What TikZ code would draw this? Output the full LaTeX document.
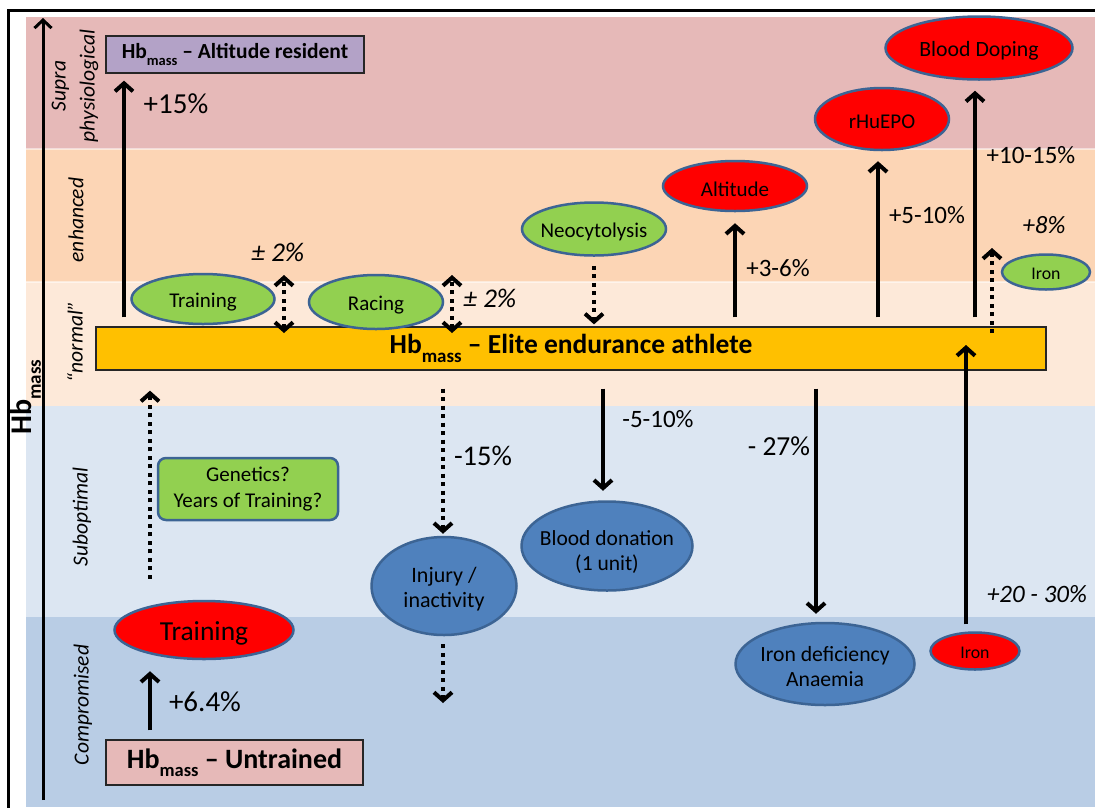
\documentclass[tikz,border=0pt]{standalone}
\usepackage{fontspec}
\setmainfont{Carlito}
\usetikzlibrary{shapes.geometric,arrows.meta}
\definecolor{bandA}{HTML}{E6B9B8}
\definecolor{bandB}{HTML}{FCD5B5}
\definecolor{bandC}{HTML}{FDE9D9}
\definecolor{bandD}{HTML}{DCE6F2}
\definecolor{bandE}{HTML}{B9CDE5}
\definecolor{purpbox}{HTML}{B3A2C7}
\definecolor{orangebar}{HTML}{FFC000}
\definecolor{greenf}{HTML}{92D050}
\definecolor{redf}{HTML}{FF0000}
\definecolor{bluef}{HTML}{4F81BD}
\definecolor{ebord}{HTML}{3C6494}
\newcommand\hbm[1]{Hb\raisebox{-0.3em}{\fontsize{#1}{#1}\selectfont mass}}
\begin{document}
\begin{tikzpicture}[x=1pt,y=-1pt,
  ell/.style={ellipse,draw=ebord,line width=2.5pt,inner sep=0pt},
  ellt/.style={font=\fontsize{21}{25}\selectfont,align=center,yshift=-3pt},
  arr/.style={line width=4pt,-{Straight Barb[length=8pt,width=18pt]}},
  darr/.style={line width=4pt,dash pattern=on 4pt off 4.5pt,-{Straight Barb[length=8pt,width=18pt]}},
  ddarr/.style={line width=4pt,dash pattern=on 4pt off 4.5pt,{Straight Barb[length=8pt,width=18pt]}-{Straight Barb[length=8pt,width=18pt]}},
  box/.style={draw=black!85,line width=1.3pt,inner sep=0pt},
  bandlab/.style={rotate=90,inner sep=0pt,font=\fontsize{21.5}{29}\selectfont\itshape,align=center},
  pct/.style={inner sep=0pt,font=\fontsize{25}{28}\selectfont},
  bpct/.style={inner sep=0pt,font=\fontsize{28.5}{30}\selectfont},
  ipct/.style={inner sep=0pt,font=\fontsize{25}{28}\selectfont\itshape}]
\useasboundingbox (0,0) rectangle (1095,807);
\clip (0,0) rectangle (1095,807);
\fill[white] (0,0) rectangle (1095,807);
% bands
\fill[bandA] (26,17) rectangle (1095,149);
\fill[bandB] (26,149) rectangle (1095,282);
\fill[bandC] (26,282) rectangle (1095,406);
\fill[bandD] (26,406) rectangle (1095,617);
\fill[bandE] (26,617) rectangle (1095,807);
\draw[white,opacity=0.5,line width=1.5pt] (26,149) -- (1095,149) (26,282) -- (1095,282);
% frame
\draw[line width=3pt] (8,10) rectangle (1130,840);
% axis
\coordinate (axB) at (43,800);
\coordinate (axT) at (43,18);
\draw[line width=3pt,-{Straight Barb[length=8pt,width=17pt]}] (axB) -- (axT);
\node[rotate=90,inner sep=0pt,font=\fontsize{30}{30}\selectfont\bfseries] (axlab) at (26,397) {\hbm{19}};
% band labels
\node[bandlab] (lSupra) at (75,86) {Supra\\physiological};
\node[bandlab] (lEnh) at (76,220) {enhanced};
\node[bandlab] (lNorm) at (75,342) {“normal”};
\node[bandlab] (lSub) at (82,517) {Suboptimal};
\node[bandlab] (lComp) at (83,705) {Compromised};
% boxes
\node[box,fill=purpbox,minimum width=258pt,minimum height=37pt,font=\fontsize{21.5}{25}\selectfont\bfseries] (altres) at (235,54.5) {\hbm{14.5} – Altitude resident};
\node[box,fill=orangebar,minimum width=950pt,minimum height=43pt,font=\fontsize{27.5}{30}\selectfont\bfseries] (elite) at (571,348.5) {\hbm{19} – Elite endurance athlete};
\node[box,fill=bandA,minimum width=257pt,minimum height=45pt,font=\fontsize{28}{30}\selectfont\bfseries] (untr) at (234.5,762.5) {\hbm{18.5} – Untrained};
\node[draw=ebord,line width=2.5pt,fill=greenf,rounded corners=8pt,minimum width=180pt,minimum height=62pt,inner sep=0pt,align=center,font=\fontsize{21}{26.5}\selectfont] (genet) at (248,489) {\raisebox{-4pt}{Genetics?}\\\raisebox{-4pt}{Years of Training?}};
% ellipses
\node[ell,fill=greenf,minimum width=143pt,minimum height=50pt,label={[ellt]center:Training}] (trG) at (203,299) {};
\node[ell,fill=greenf,minimum width=134pt,minimum height=54pt,label={[ellt]center:Racing}] (racG) at (376,302) {};
\node[ell,fill=greenf,minimum width=144pt,minimum height=53pt,label={[ellt]center:Neocytolysis}] (neo) at (594,229) {};
\node[ell,fill=redf,minimum width=144pt,minimum height=50pt,label={[ellt]center:Altitude}] (altE) at (735,186) {};
\node[ell,fill=redf,minimum width=134pt,minimum height=62pt,label={[ellt]center:rHuEPO}] (rhu) at (882,119) {};
\node[ell,fill=redf,minimum width=187pt,minimum height=63pt,label={[ellt,font=\fontsize{21.8}{26}\selectfont]center:Blood Doping}] (bd) at (979,48) {};
\node[ell,fill=greenf,minimum width=88pt,minimum height=35pt,label={[ellt,yshift=1pt,font=\fontsize{17.8}{20}\selectfont]center:Iron}] (ironG) at (1046,272) {};
\node[ell,fill=redf,minimum width=89pt,minimum height=37pt,label={[ellt,yshift=1pt,font=\fontsize{17.8}{20}\selectfont]center:Iron}] (ironR) at (975,651) {};
\node[ell,fill=bluef,minimum width=179pt,minimum height=82pt,label={[ellt,font=\fontsize{21.7}{25}\selectfont]center:Iron deficiency\\Anaemia}] (ida) at (825,664) {};
\node[ell,fill=bluef,minimum width=171pt,minimum height=89pt,label={[ellt,yshift=-3pt,font=\fontsize{21.5}{25}\selectfont]center:Blood donation\\(1 unit)}] (bdon) at (607,546) {};
\node[ell,fill=bluef,minimum width=145pt,minimum height=98pt,label={[ellt,font=\fontsize{22}{25}\selectfont]center:Injury /\\inactivity}] (inj) at (444,586) {};
\node[ell,fill=redf,minimum width=179pt,minimum height=58pt,label={[ellt,font=\fontsize{27.5}{30}\selectfont]center:Training}] (trR) at (204,630) {};
% coordinates for free ends
\coordinate (pmA1) at (284,333); \coordinate (pmA2) at (284,275);
\coordinate (pmB1) at (452,333); \coordinate (pmB2) at (452,275);
\coordinate (ironGs) at (992,333); \coordinate (ironGt) at (992,248);
\coordinate (ironTip) at (966,345);
\coordinate (injEnd) at (443,703);
% solid arrows up
\draw[arr,shorten <=9pt,shorten >=7pt] (elite.north -| 124,0) -- (altres.south -| 124,0);
\draw[arr,shorten <=9pt,shorten >=11pt] (elite.north -| altE.south) -- (altE.south);
\draw[arr,shorten <=9pt,shorten >=10pt] (elite.north -| 878,0) -- (rhu.south -| 878,0);
\draw[arr,shorten <=9pt,shorten >=10pt] (elite.north -| 975,0) -- (bd.south -| 975,0);
\draw[arr,shorten <=7pt] (ironR.north -| ironTip) -- (ironTip);
\draw[arr,shorten <=9pt,shorten >=11pt] (untr.north -| 150,0) -- (trR.south -| 150,0);
% solid arrows down
\draw[arr,shorten <=18pt,shorten >=9.5pt] (elite.south -| 603,0) -- (bdon.north -| 603,0);
\draw[arr,shorten <=18pt,shorten >=8pt] (elite.south -| 816,0) -- (ida.north -| 816,0);
% dotted arrows
\draw[ddarr] (pmA1) -- (pmA2);
\draw[ddarr] (pmB1) -- (pmB2);
\draw[darr,shorten <=9pt,shorten >=2pt] (neo.south) -- (elite.north -| neo.south);
\draw[darr] (ironGs) -- (ironGt);
\draw[darr,shorten <=18pt,shorten >=2pt] (elite.south -| 443,0) -- (inj.north -| 443,0);
\draw[darr,shorten <=8pt] (inj.south -| injEnd) -- (injEnd);
\draw[darr,shorten <=21pt,shorten >=20pt] (trR.north -| 150,0) -- (elite.south -| 150,0);
% percentage labels
\node[bpct,font=\fontsize{29}{30}\selectfont] (p15) at (176,104) {+15\%};
\node[ipct,font=\fontsize{27}{28}\selectfont\itshape] (pm2a) at (278,252) {± 2\%};
\node[ipct,font=\fontsize{27}{28}\selectfont\itshape] (pm2b) at (490,298) {± 2\%};
\node[pct] (p36) at (778,268) {+3-6\%};
\node[pct] (p510) at (927,215) {+5-10\%};
\node[pct] (p1015) at (1031,155) {+10-15\%};
\node[ipct] (p8) at (1044,225) {+8\%};
\node[ipct] (p2030) at (1037,594) {+20 - 30\%};
\node[bpct,font=\fontsize{27.5}{30}\selectfont] (m27) at (779,446) {- 27\%};
\node[pct] (m510) at (658,419) {-5-10\%};
\node[bpct] (m15) at (483,456) {-15\%};
\node[bpct,font=\fontsize{29}{30}\selectfont] (p64) at (205,702) {+6.4\%};
\end{tikzpicture}
\end{document}
